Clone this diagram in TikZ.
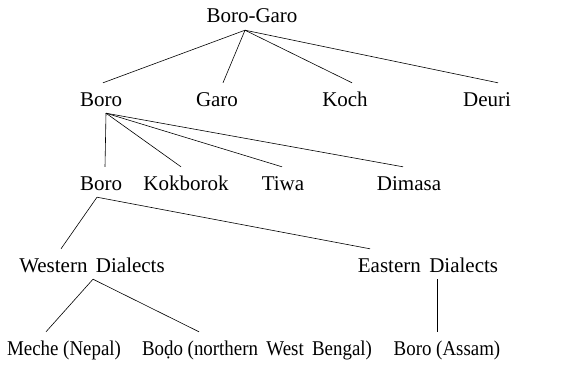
\documentclass[tikz,border=0pt]{standalone}
\usepackage{fontspec}
\setmainfont{Liberation Serif}
\newfontfamily\narrowserif[FakeStretch=0.9]{Liberation Serif}
\usepackage{tikz}
\usetikzlibrary{calc}
\usetikzlibrary{positioning}
\tikzset{>=latex}

\begin{document}
\begin{tikzpicture}[x=1pt,y=-1pt,
  lang/.style={anchor=base,inner sep=2pt,text height=21pt,text depth=5pt,font=\fontsize{21}{25}\selectfont},
  leaf/.style={lang,font=\fontsize{21}{25}\narrowserif},
  branch/.style={line width=0.6pt}]

\useasboundingbox (0,0) rectangle (586,364);

\node (root) [lang] at (252,23) {Boro-Garo};

\node (boro) [lang] at (101,106) {Boro};
\node (garo) [lang] at (217,106) {Garo};
\node (koch) [lang] at (345,106) {Koch};
\node (deuri) [lang] at (487,106) {Deuri};

\node (boroB) [lang] at (101,190) {Boro};
\node (kokborok) [lang] at (186,190) {Kokborok};
\node (tiwa) [lang] at (283,190) {Tiwa};
\node (dimasa) [lang] at (409,190) {Dimasa};

\node (western) [lang] at (92,272) {Western\hspace{0.4em}Dialects};
\node (eastern) [lang] at (428,272) {Eastern\hspace{0.4em}Dialects};

\node (meche) [leaf] at (64,355) {Meche (Nepal)};
\node (bodo) [leaf] at (257,355) {Boḍo (northern\hspace{0.4em}West\hspace{0.4em}Bengal)};
\node (assam) [leaf] at (447,355) {Boro (Assam)};

\foreach \x/\d in {boro/2, garo/6, koch/7, deuri/11} \draw [branch] ($(root.south)+(-7,0)$) -- ($(\x.north)+(\d,0)$);
\foreach \x/\d in {boroB/4, kokborok/-5, tiwa/-1, dimasa/-6} \draw [branch] ($(boro.south)+(5,0)$) -- ($(\x.north)+(\d,0)$);
\foreach \x/\d in {western/-31, eastern/-58} \draw [branch] ($(boroB.south)+(-4,0)$) -- ($(\x.north)+(\d,0)$);
\foreach \x/\d in {meche/-18, bodo/-58} \draw [branch] ($(western.south)+(1,0)$) -- ($(\x.north)+(\d,0)$);

\coordinate (ejoin) at ($(eastern.south)!0.5!(assam.north)$);
\draw [branch] (ejoin |- eastern.south) -- (ejoin |- assam.north);

\end{tikzpicture}
\end{document}
